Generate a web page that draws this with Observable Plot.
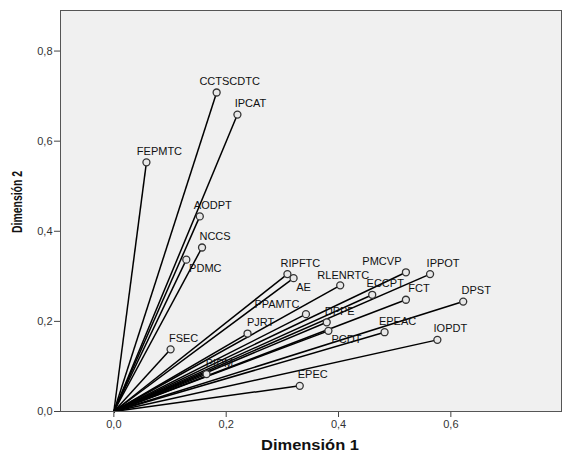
<!DOCTYPE html>
<html>
<head>
<meta charset="utf-8">
<script src="https://cdn.jsdelivr.net/npm/d3@7"></script>
<script src="https://cdn.jsdelivr.net/npm/@observablehq/plot@0.6"></script>
<style>
  html, body { margin: 0; padding: 0; background: #ffffff; }
  #chart { width: 563px; height: 452px; }
</style>
</head>
<body>
<div id="chart"></div>
<script>
// Variable names and their loadings on the two dimensions
const names = ["CCTSCDTC", "IPCAT", "FEPMTC", "AODPT", "NCCS", "PDMC", "RIPFTC", "AE",
  "RLENRTC", "PMCVP", "IPPOT", "ECCPT", "FCT", "DPST", "PPAMTC", "DPPE", "PCDT",
  "EPEAC", "IOPDT", "PJRT", "FSEC", "PIDM", "EPEC"];
const dim1 = [0.183, 0.220, 0.058, 0.153, 0.157, 0.129, 0.309, 0.320,
  0.403, 0.520, 0.563, 0.460, 0.520, 0.622, 0.342, 0.379, 0.382,
  0.482, 0.576, 0.238, 0.101, 0.165, 0.331];
const dim2 = [0.708, 0.659, 0.553, 0.433, 0.364, 0.337, 0.305, 0.296,
  0.280, 0.309, 0.305, 0.259, 0.248, 0.244, 0.216, 0.198, 0.179,
  0.176, 0.159, 0.173, 0.138, 0.083, 0.057];
const xTicks = [0, 0.2, 0.4, 0.6];
const yTicks = [0, 0.2, 0.4, 0.6, 0.8];
const xTitle = "Dimensión 1";
const yTitle = "Dimensión 2";

const data = names.map((n, i) => ({name: n, x: dim1[i], y: dim2[i]}));
const fmt = d => d.toFixed(1).replace(".", ",");

// label placement tweaks (label offsets in px)
const nudge = {
  PDMC: [19, 9], AE: [10, 9], PCDT: [18, 9],
  PMCVP: [-24, -11], PPAMTC: [-29, -10], RLENRTC: [3, -10]
};
const textOpts = {x: "x", y: "y", text: "name", fill: "#111", fontSize: 11};

const chart = Plot.plot({
  width: 563,
  height: 452,
  marginLeft: 60,
  marginRight: 2,
  marginTop: 10,
  marginBottom: 41,
  style: {fontFamily: "'Liberation Sans', Arial, sans-serif", fontSize: "11px", background: "#ffffff", overflow: "visible"},
  x: {domain: [-0.095, 0.797]},
  y: {domain: [0, 0.89]},
  marks: [
    Plot.frame({fill: "#f0f0f0", stroke: "none"}),
    Plot.axisX({ticks: xTicks, tickFormat: fmt, tickSize: 6, tickPadding: 3, label: null, stroke: "#444", fill: "#333", fontSize: 11}),
    Plot.axisY({ticks: yTicks, tickFormat: fmt, tickSize: 6, tickPadding: 2, label: null, stroke: "#444", fill: "#333", fontSize: 11}),
    Plot.link(data, {x1: () => 0, y1: () => 0, x2: "x", y2: "y", stroke: "#000", strokeWidth: 1.5}),
    Plot.dot(data, {x: "x", y: "y", r: 3.5, stroke: "#333", strokeWidth: 1.3, fill: "#e8e8e8"}),
    Plot.text(data.filter(d => !nudge[d.name]), {...textOpts, dx: 13, dy: -11}),
    ...Object.entries(nudge).map(([n, [dx, dy]]) =>
      Plot.text(data.filter(d => d.name === n), {...textOpts, dx, dy})),
    Plot.frame({stroke: "#555", strokeWidth: 1})
  ]
});

const svg = d3.select(chart);
svg.append("text")
  .attr("x", 310).attr("y", 450)
  .attr("text-anchor", "middle")
  .attr("font-family", "'Liberation Sans', Arial, sans-serif")
  .attr("font-weight", "bold").attr("font-size", 14)
  .attr("fill", "#111")
  .attr("textLength", 98).attr("lengthAdjust", "spacingAndGlyphs")
  .text(xTitle);
svg.append("text")
  .attr("transform", "translate(22,202) rotate(-90)")
  .attr("text-anchor", "middle")
  .attr("font-family", "'Liberation Sans', Arial, sans-serif")
  .attr("font-weight", "bold").attr("font-size", 14)
  .attr("fill", "#111")
  .attr("textLength", 62).attr("lengthAdjust", "spacingAndGlyphs")
  .text(yTitle);

document.getElementById("chart").appendChild(chart);
</script>
</body>
</html>
